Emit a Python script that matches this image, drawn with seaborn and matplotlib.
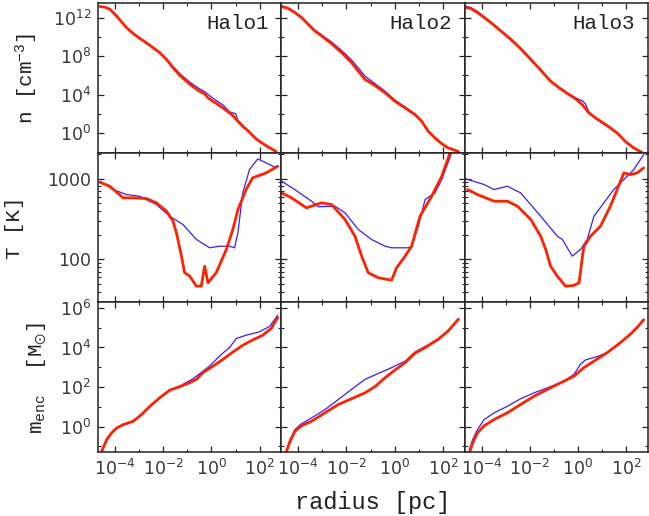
import numpy as np
import pandas as pd
import matplotlib
matplotlib.use("Agg")
import matplotlib.pyplot as plt
import seaborn as sns
from matplotlib.ticker import FixedLocator, FuncFormatter, NullFormatter

# ---------------- data (log10 values) ----------------
halos = ["Halo1", "Halo2", "Halo3"]

# number density n [cm^-3]
h1_n_red_lr = [-4.62, -4.41, -4.21, -4.00, -3.79, -3.52, -3.24, -2.97, -2.55, -2.14, -1.86, -1.59, -1.31, -1.04, -0.76, -0.49, -0.28, -0.14, 0.07, 0.48, 0.89, 1.10, 1.30, 1.51, 1.86, 2.27, 2.68]
h1_n_red = [13.23, 13.16, 12.95, 12.42, 11.82, 11.02, 10.39, 9.89, 9.16, 8.39, 7.68, 6.81, 6.00, 5.40, 4.81, 4.35, 4.07, 3.65, 3.29, 2.60, 1.79, 1.19, 0.66, 0.21, -0.67, -1.37, -1.97]
h1_n_blue_lr = [-4.62, -4.41, -4.21, -4.00, -3.79, -3.52, -3.24, -2.97, -2.55, -2.14, -1.86, -1.59, -1.31, -1.04, -0.76, -0.49, -0.28, 0.07, 0.48, 0.75, 0.89, 1.00, 1.10, 1.30, 1.51, 1.86, 2.27, 2.68]
h1_n_blue = [13.26, 13.18, 12.97, 12.44, 11.84, 11.04, 10.41, 9.91, 9.18, 8.41, 7.75, 6.95, 6.20, 5.60, 5.05, 4.60, 4.30, 3.60, 2.90, 2.20, 2.07, 2.00, 1.30, 0.75, 0.25, -0.67, -1.37, -1.97]

h2_n_red_lr = [-4.69, -4.41, -4.14, -3.86, -3.59, -3.31, -3.03, -2.62, -2.20, -1.79, -1.51, -1.23, -0.82, -0.40, 0.01, 0.43, 0.84, 1.12, 1.39, 1.67, 1.95, 2.22, 2.64]
h2_n_red = [13.23, 13.02, 12.60, 12.07, 11.37, 10.66, 10.14, 9.34, 8.39, 7.34, 6.45, 5.58, 4.95, 4.18, 3.29, 2.60, 1.89, 1.19, 0.14, -0.56, -1.16, -1.61, -1.97]
h2_n_blue_lr = [-4.69, -4.41, -4.14, -3.86, -3.59, -3.31, -3.03, -2.62, -2.20, -1.79, -1.51, -1.23, -0.82, -0.40, 0.01, 0.43, 0.84, 1.12, 1.39, 1.67, 1.95, 2.22, 2.64]
h2_n_blue = [13.30, 13.08, 12.66, 12.13, 11.45, 10.76, 10.26, 9.52, 8.62, 7.62, 6.80, 5.92, 5.15, 4.35, 3.42, 2.70, 1.95, 1.22, 0.14, -0.56, -1.16, -1.61, -1.97]

h3_n_red_lr = [-4.65, -4.44, -4.17, -3.89, -3.62, -3.20, -2.79, -2.38, -1.96, -1.55, -1.14, -0.79, -0.45, -0.10, 0.17, 0.45, 0.79, 1.21, 1.62, 1.96, 2.31, 2.65]
h3_n_red = [13.13, 13.02, 12.60, 12.07, 11.55, 10.66, 9.79, 8.81, 7.68, 6.56, 5.40, 4.71, 4.11, 3.55, 2.95, 2.07, 1.44, 0.74, -0.03, -0.92, -1.61, -2.07]
h3_n_blue_lr = [-4.65, -4.44, -4.17, -3.89, -3.62, -3.20, -2.79, -2.38, -1.96, -1.55, -1.14, -0.79, -0.45, -0.10, 0.17, 0.30, 0.45, 0.79, 1.21, 1.62, 1.96, 2.31, 2.65]
h3_n_blue = [13.28, 13.12, 12.72, 12.17, 11.62, 10.72, 9.85, 8.86, 7.74, 6.60, 5.45, 4.78, 4.20, 3.65, 3.35, 3.05, 2.15, 1.35, 0.65, -0.08, -0.92, -1.61, -2.07]

# temperature T [K]
h1_T_red_lr = [-4.62, -4.21, -3.66, -3.24, -2.69, -2.28, -1.86, -1.59, -1.45, -1.24, -1.11, -0.90, -0.62, -0.42, -0.28, -0.14, 0.20, 0.62, 0.89, 1.10, 1.44, 1.71, 2.27, 2.75]
h1_T_red = [2.954, 2.905, 2.762, 2.762, 2.753, 2.700, 2.596, 2.473, 2.330, 2.041, 1.836, 1.794, 1.670, 1.670, 1.917, 1.712, 1.836, 2.123, 2.370, 2.617, 2.864, 3.009, 3.070, 3.152]
h1_T_blue_lr = [-4.62, -4.07, -3.52, -2.97, -2.28, -1.73, -1.18, -0.62, -0.07, 0.34, 0.75, 0.96, 1.10, 1.30, 1.58, 1.92, 2.27, 2.68]
h1_T_blue = [2.967, 2.864, 2.802, 2.781, 2.679, 2.535, 2.432, 2.247, 2.144, 2.164, 2.164, 2.144, 2.330, 2.823, 3.111, 3.243, 3.194, 3.132]

h2_T_red_lr = [-4.69, -4.28, -3.66, -3.03, -2.62, -2.06, -1.65, -1.37, -1.10, -0.68, -0.13, 0.08, 0.43, 0.70, 1.05, 1.53, 1.95, 2.29, 2.50]
h2_T_red = [2.823, 2.762, 2.638, 2.700, 2.679, 2.494, 2.288, 2.041, 1.836, 1.774, 1.744, 1.898, 2.041, 2.164, 2.535, 2.781, 3.028, 3.317, 3.500]
h2_T_blue_lr = [-4.69, -4.14, -3.45, -3.17, -2.48, -2.06, -1.51, -0.96, -0.40, -0.13, 0.56, 0.70, 0.98, 1.26, 1.67, 1.95, 2.36, 2.55]
h2_T_blue = [2.967, 2.864, 2.720, 2.651, 2.658, 2.577, 2.370, 2.247, 2.164, 2.144, 2.144, 2.164, 2.411, 2.741, 2.823, 2.988, 3.317, 3.500]

h3_T_red_lr = [-4.58, -4.17, -3.48, -2.93, -2.51, -1.96, -1.55, -1.34, -1.14, -0.86, -0.52, -0.17, 0.04, 0.24, 0.52, 0.93, 1.34, 1.90, 2.17, 2.45, 2.72]
h3_T_red = [2.864, 2.802, 2.720, 2.720, 2.658, 2.494, 2.288, 2.123, 1.917, 1.794, 1.670, 1.679, 1.712, 2.164, 2.288, 2.411, 2.658, 3.070, 3.049, 3.070, 3.132]
h3_T_blue_lr = [-4.65, -3.89, -3.48, -2.93, -2.38, -1.55, -0.86, -0.65, -0.24, 0.10, 0.38, 0.66, 1.07, 1.48, 1.90, 2.31, 2.72]
h3_T_blue = [2.996, 2.926, 2.864, 2.905, 2.823, 2.535, 2.288, 2.247, 2.041, 2.123, 2.247, 2.535, 2.700, 2.864, 2.988, 3.111, 3.296]

# enclosed mass m_enc [Msun]
h1_m_red_lr = [-4.55, -4.34, -4.14, -3.93, -3.66, -3.24, -2.90, -2.55, -2.14, -1.73, -1.31, -0.90, -0.62, -0.35, 0.07, 0.48, 0.89, 1.30, 1.71, 2.13, 2.48, 2.75]
h1_m_red = [-1.25, -0.66, -0.32, -0.07, 0.10, 0.27, 0.61, 1.03, 1.46, 1.84, 2.02, 2.22, 2.39, 2.73, 3.06, 3.40, 3.77, 4.11, 4.38, 4.62, 4.96, 5.52]
h1_m_blue_lr = [-4.55, -4.34, -4.14, -3.93, -3.66, -3.24, -2.90, -2.55, -2.14, -1.73, -1.31, -0.76, -0.07, 0.41, 0.75, 1.03, 1.44, 1.99, 2.41, 2.75]
h1_m_blue = [-1.25, -0.66, -0.32, -0.07, 0.10, 0.27, 0.61, 1.03, 1.46, 1.84, 2.05, 2.42, 3.06, 3.65, 3.99, 4.45, 4.62, 4.79, 5.06, 5.63]

h2_m_red_lr = [-4.49, -4.34, -4.14, -3.86, -3.45, -2.89, -2.34, -1.79, -1.23, -0.82, -0.40, 0.01, 0.43, 0.84, 1.26, 1.81, 2.22, 2.64]
h2_m_red = [-1.25, -0.75, -0.24, 0.05, 0.27, 0.70, 1.12, 1.41, 1.71, 2.02, 2.47, 2.86, 3.23, 3.71, 3.99, 4.42, 4.84, 5.43]
h2_m_blue_lr = [-4.49, -4.34, -4.14, -3.86, -3.45, -2.89, -2.34, -1.79, -1.23, -0.68, -0.13, 0.43, 0.84, 1.26, 1.81, 2.22, 2.64]
h2_m_blue = [-1.25, -0.66, -0.15, 0.15, 0.44, 0.86, 1.37, 1.88, 2.39, 2.69, 2.98, 3.31, 3.77, 4.05, 4.42, 4.84, 5.43]

h3_m_red_lr = [-4.51, -4.37, -4.17, -3.89, -3.48, -2.93, -2.38, -1.82, -1.14, -0.58, -0.17, 0.24, 0.66, 1.21, 1.76, 2.17, 2.45, 2.72]
h3_m_red = [-1.34, -0.83, -0.32, 0.05, 0.36, 0.70, 1.12, 1.54, 1.96, 2.30, 2.55, 2.98, 3.31, 3.74, 4.25, 4.67, 5.01, 5.40]
h3_m_blue_lr = [-4.51, -4.37, -4.17, -3.89, -3.48, -2.93, -2.38, -1.82, -1.14, -0.58, -0.17, 0.10, 0.31, 0.79, 1.21, 1.76, 2.17, 2.45, 2.72]
h3_m_blue = [-1.20, -0.66, -0.15, 0.36, 0.70, 1.03, 1.41, 1.71, 2.02, 2.30, 2.64, 3.15, 3.37, 3.54, 3.74, 4.25, 4.67, 5.01, 5.40]

series = {
    ("n", 0): (h1_n_red_lr, h1_n_red, h1_n_blue_lr, h1_n_blue),
    ("n", 1): (h2_n_red_lr, h2_n_red, h2_n_blue_lr, h2_n_blue),
    ("n", 2): (h3_n_red_lr, h3_n_red, h3_n_blue_lr, h3_n_blue),
    ("T", 0): (h1_T_red_lr, h1_T_red, h1_T_blue_lr, h1_T_blue),
    ("T", 1): (h2_T_red_lr, h2_T_red, h2_T_blue_lr, h2_T_blue),
    ("T", 2): (h3_T_red_lr, h3_T_red, h3_T_blue_lr, h3_T_blue),
    ("m", 0): (h1_m_red_lr, h1_m_red, h1_m_blue_lr, h1_m_blue),
    ("m", 1): (h2_m_red_lr, h2_m_red, h2_m_blue_lr, h2_m_blue),
    ("m", 2): (h3_m_red_lr, h3_m_red, h3_m_blue_lr, h3_m_blue),
}

# ---------------- style ----------------
sns.set_style("ticks")
plt.rcParams['font.family'] = ['DejaVu Sans']
plt.rcParams['mathtext.default'] = 'regular'
plt.rcParams['axes.linewidth'] = 1.1
plt.rcParams['axes.edgecolor'] = '#222222'

RED = '#ff2200'
BLUE = '#3c1cff'
MONO = ['Liberation Mono', 'DejaVu Sans Mono']
TICKCOL = '#3a3a3a'

fig = plt.figure(figsize=(6.49, 5.16), dpi=100)
left, right, top, bottom = 98 / 649, 648 / 649, 1 - 3 / 516, 1 - 452 / 516
fig.subplots_adjust(left=left, right=right, top=top, bottom=bottom, hspace=0, wspace=0)
axes = fig.subplots(3, 3, sharex=True)

rows = ["n", "T", "m"]
ylims = {"n": (10**-2.1, 10**13.6), "T": (10**1.47, 10**3.32), "m": (10**-1.28, 10**6.28)}


def pow_fmt(v, pos):
    e = int(round(np.log10(v)))
    return r"10$^{%d}$" % e


for i, q in enumerate(rows):
    for j in range(3):
        ax = axes[i, j]
        rl, rv, bl, bv = series[(q, j)]
        df_b = pd.DataFrame({"r": 10 ** np.array(bl), "v": 10 ** np.array(bv)})
        df_r = pd.DataFrame({"r": 10 ** np.array(rl), "v": 10 ** np.array(rv)})
        sns.lineplot(data=df_b, x="r", y="v", ax=ax, color=BLUE, lw=0.9,
                     sort=False, estimator=None)
        sns.lineplot(data=df_r, x="r", y="v", ax=ax, color=RED, lw=2.0,
                     sort=False, estimator=None)
        ax.set_xscale("log")
        ax.set_yscale("log")
        ax.set_xlim(10**-4.7, 10**2.9)
        ax.set_ylim(*ylims[q])
        ax.set_xlabel("")
        ax.set_ylabel("")
        ax.xaxis.set_major_locator(FixedLocator([1e-4, 1e-2, 1e0, 1e2]))
        ax.xaxis.set_minor_locator(FixedLocator([1e-3, 1e-1, 1e1]))
        ax.xaxis.set_minor_formatter(NullFormatter())
        if q == "n":
            ax.yaxis.set_major_locator(FixedLocator([1e0, 1e4, 1e8, 1e12]))
            ax.yaxis.set_minor_locator(FixedLocator([1e-2, 1e2, 1e6, 1e10]))
            ax.yaxis.set_major_formatter(FuncFormatter(pow_fmt))
        elif q == "T":
            ax.yaxis.set_major_locator(FixedLocator([100, 1000]))
            ax.yaxis.set_minor_locator(FixedLocator([40, 50, 60, 70, 80, 90, 200, 300, 400, 500, 600, 700, 800, 900, 2000]))
            ax.yaxis.set_major_formatter(FuncFormatter(lambda v, p: "%d" % round(v)))
        else:
            ax.yaxis.set_major_locator(FixedLocator([1e0, 1e2, 1e4, 1e6]))
            ax.yaxis.set_minor_locator(FixedLocator([1e-1, 1e1, 1e3, 1e5]))
            ax.yaxis.set_major_formatter(FuncFormatter(pow_fmt))
        ax.yaxis.set_minor_formatter(NullFormatter())
        ax.xaxis.set_major_formatter(FuncFormatter(pow_fmt))
        ax.tick_params(which="both", direction="in", top=True, right=True,
                       labelsize=12.5, labelcolor=TICKCOL, color='#222222')
        ax.tick_params(which="major", length=4.5, width=0.9, pad=5)
        ax.tick_params(which="minor", length=2.5, width=0.8)
        if j != 0:
            ax.tick_params(labelleft=False)
        if i != 2:
            ax.tick_params(labelbottom=False)
        if i == 0:
            ax.text(0.93, 0.86, halos[j], transform=ax.transAxes, ha="right",
                    va="center", fontsize=15, family=MONO, color='#222222')

fig.text(0.575, 0.027, "radius [pc]", ha="center", va="center", fontsize=17,
         family=MONO, color='#222222')
fig.text(27 / 649, 1 - 78 / 516, r"n [cm$^{\mathdefault{-3}}$]", rotation=90,
         ha="center", va="center", fontsize=15, family=MONO, color='#222222')
fig.text(15 / 649, 1 - 228 / 516, "T [K]", rotation=90,
         ha="center", va="center", fontsize=15, family=MONO, color='#222222')
fig.text(37 / 649, 1 - 378 / 516, r"m$_{\mathdefault{enc}}$  [M$_{\odot}$]", rotation=90,
         ha="center", va="center", fontsize=15, family=MONO, color='#222222')

fig.savefig("out.png", dpi=100)
